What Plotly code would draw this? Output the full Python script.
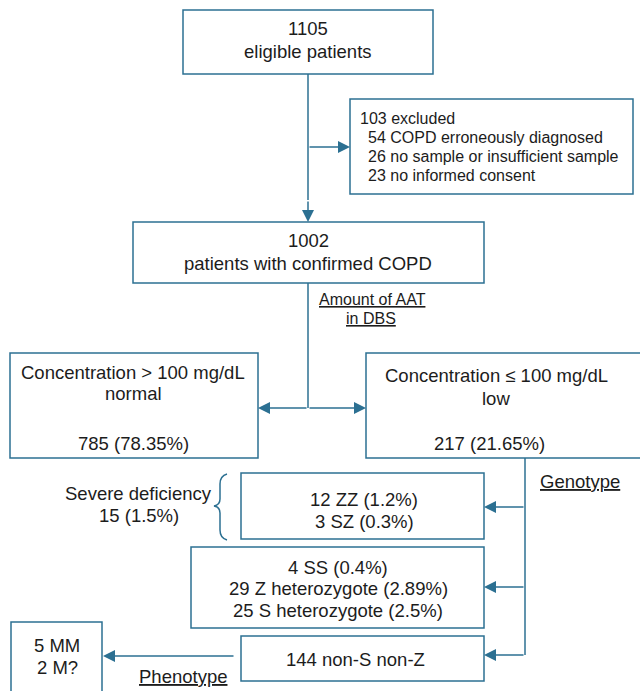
import plotly.graph_objects as go

# ---------------- data ----------------
eligible = 1105
excluded_total = 103
excluded_counts = [54, 26, 23]
excluded_reasons = ["COPD erroneously diagnosed", "no sample or insufficient sample", "no informed consent"]
confirmed = 1002
conc_labels = ["Concentration > 100 mg/dL", "Concentration \u2264 100 mg/dL"]
conc_sub = ["normal", "low"]
conc_counts = [785, 217]
conc_pct = ["78.35", "21.65"]
severe_labels = ["ZZ", "SZ"]
severe_counts = [12, 3]
severe_pct = ["1.2", "0.3"]
severe_total = 15
severe_total_pct = "1.5"
mid_labels = ["SS", "Z heterozygote", "S heterozygote"]
mid_counts = [4, 29, 25]
mid_pct = ["0.4", "2.89", "2.5"]
other_count = 144
other_label = "non-S non-Z"
pheno_labels = ["MM", "M?"]
pheno_counts = [5, 2]

# ---------------- style ----------------
LC = "#2c7092"
TC = "#1c1c1c"
FONT = "Liberation Sans, Arial, sans-serif"
LW = 1.5
FS = 18.5

fig = go.Figure()
shapes = []
annots = []


def box(x0, y0, x1, y1):
    shapes.append(dict(type="rect", xref="x", yref="y", x0=x0, y0=y0, x1=x1, y1=y1,
                       line=dict(color=LC, width=LW), fillcolor="rgba(0,0,0,0)"))


def line(x0, y0, x1, y1):
    shapes.append(dict(type="line", xref="x", yref="y", x0=x0, y0=y0, x1=x1, y1=y1,
                       line=dict(color=LC, width=LW)))


def arrow(xt, yt, xh, yh):
    annots.append(dict(x=xh, y=yh, ax=xt, ay=yt, xref="x", yref="y", axref="x", ayref="y",
                       text="", showarrow=True, arrowhead=2, arrowsize=1.6, arrowwidth=LW,
                       arrowcolor=LC, standoff=0, startstandoff=0))


def txt(x, y, s, size=FS, anchor="center"):
    annots.append(dict(x=x, y=y, xref="x", yref="y", text=s, showarrow=False,
                       xanchor=anchor, yanchor="middle",
                       font=dict(family=FONT, size=size, color=TC)))


# top box
box(183, 10, 433, 74)
txt(308, 28, str(eligible))
txt(308, 51, "eligible patients")

# exclusion box
box(350, 99, 633, 194)
txt(358, 118, f"{excluded_total} excluded", 16, "left")
for i, (c, r) in enumerate(zip(excluded_counts, excluded_reasons)):
    txt(366, 137 + i * 19.3, f"{c} {r}", 16, "left")

line(308, 74, 308, 200)
arrow(308, 200, 308, 222)
arrow(308, 147, 350, 147)

# confirmed
box(133, 222, 484, 283)
txt(308, 240, str(confirmed))
txt(308, 263, "patients with confirmed COPD")

line(308, 283, 308, 408)
txt(372, 299, "<u>Amount of AAT</u>", 16)
txt(371, 318, "<u>in DBS</u>", 16)
arrow(308, 408, 258, 408)
arrow(308, 408, 366, 408)

# concentration boxes
box(10, 353, 258, 458)
box(366, 353, 642, 458)
cx = [133, 496]
cx3 = [133, 489]
ys = [[372, 393, 443], [375, 398, 443]]
for i in range(2):
    txt(cx[i], ys[i][0], conc_labels[i])
    txt(cx[i], ys[i][1], conc_sub[i])
    txt(cx3[i], ys[i][2], f"{conc_counts[i]} ({conc_pct[i]}%)")

# genotype branch
line(525, 458, 525, 655)
txt(580, 481, "<u>Genotype</u>")
arrow(525, 507, 484, 507)
arrow(525, 587, 484, 587)
arrow(525, 655, 484, 655)

box(241, 473, 484, 539)
for i in range(2):
    txt(364, 499 + i * 22, f"{severe_counts[i]} {severe_labels[i]} ({severe_pct[i]}%)")

# brace
shapes.append(dict(type="path", xref="x", yref="y",
                   path="M 227,474 Q 220,476 220,484 L 220,499 Q 220,505 214,506 "
                        "Q 220,507 220,513 L 220,530 Q 220,538 227,540",
                   line=dict(color=LC, width=LW), fillcolor="rgba(0,0,0,0)"))
txt(138, 493, "Severe deficiency")
txt(139, 515, f"{severe_total} ({severe_total_pct}%)")

box(191, 547, 484, 628)
for i in range(3):
    txt(338, 567 + i * 21.5, f"{mid_counts[i]} {mid_labels[i]} ({mid_pct[i]}%)")

box(241, 636, 484, 681)
txt(355, 659, f"{other_count} {other_label}")

# phenotype
arrow(235, 656, 103, 656)
txt(183, 676, "<u>Phenotype</u>")
box(11, 622, 102, 700)
for i in range(2):
    txt(57, 645 + i * 22, f"{pheno_counts[i]} {pheno_labels[i]}")

fig.update_layout(
    width=640, height=691,
    margin=dict(l=0, r=0, t=0, b=0),
    paper_bgcolor="white", plot_bgcolor="white",
    xaxis=dict(range=[0, 640], visible=False, fixedrange=True),
    yaxis=dict(range=[691, 0], visible=False, fixedrange=True),
    shapes=shapes, annotations=annots, showlegend=False,
)
fig.write_html("out.html", config={"displayModeBar": False},
               post_script="document.body.style.margin='0';document.body.style.overflow='hidden';")
